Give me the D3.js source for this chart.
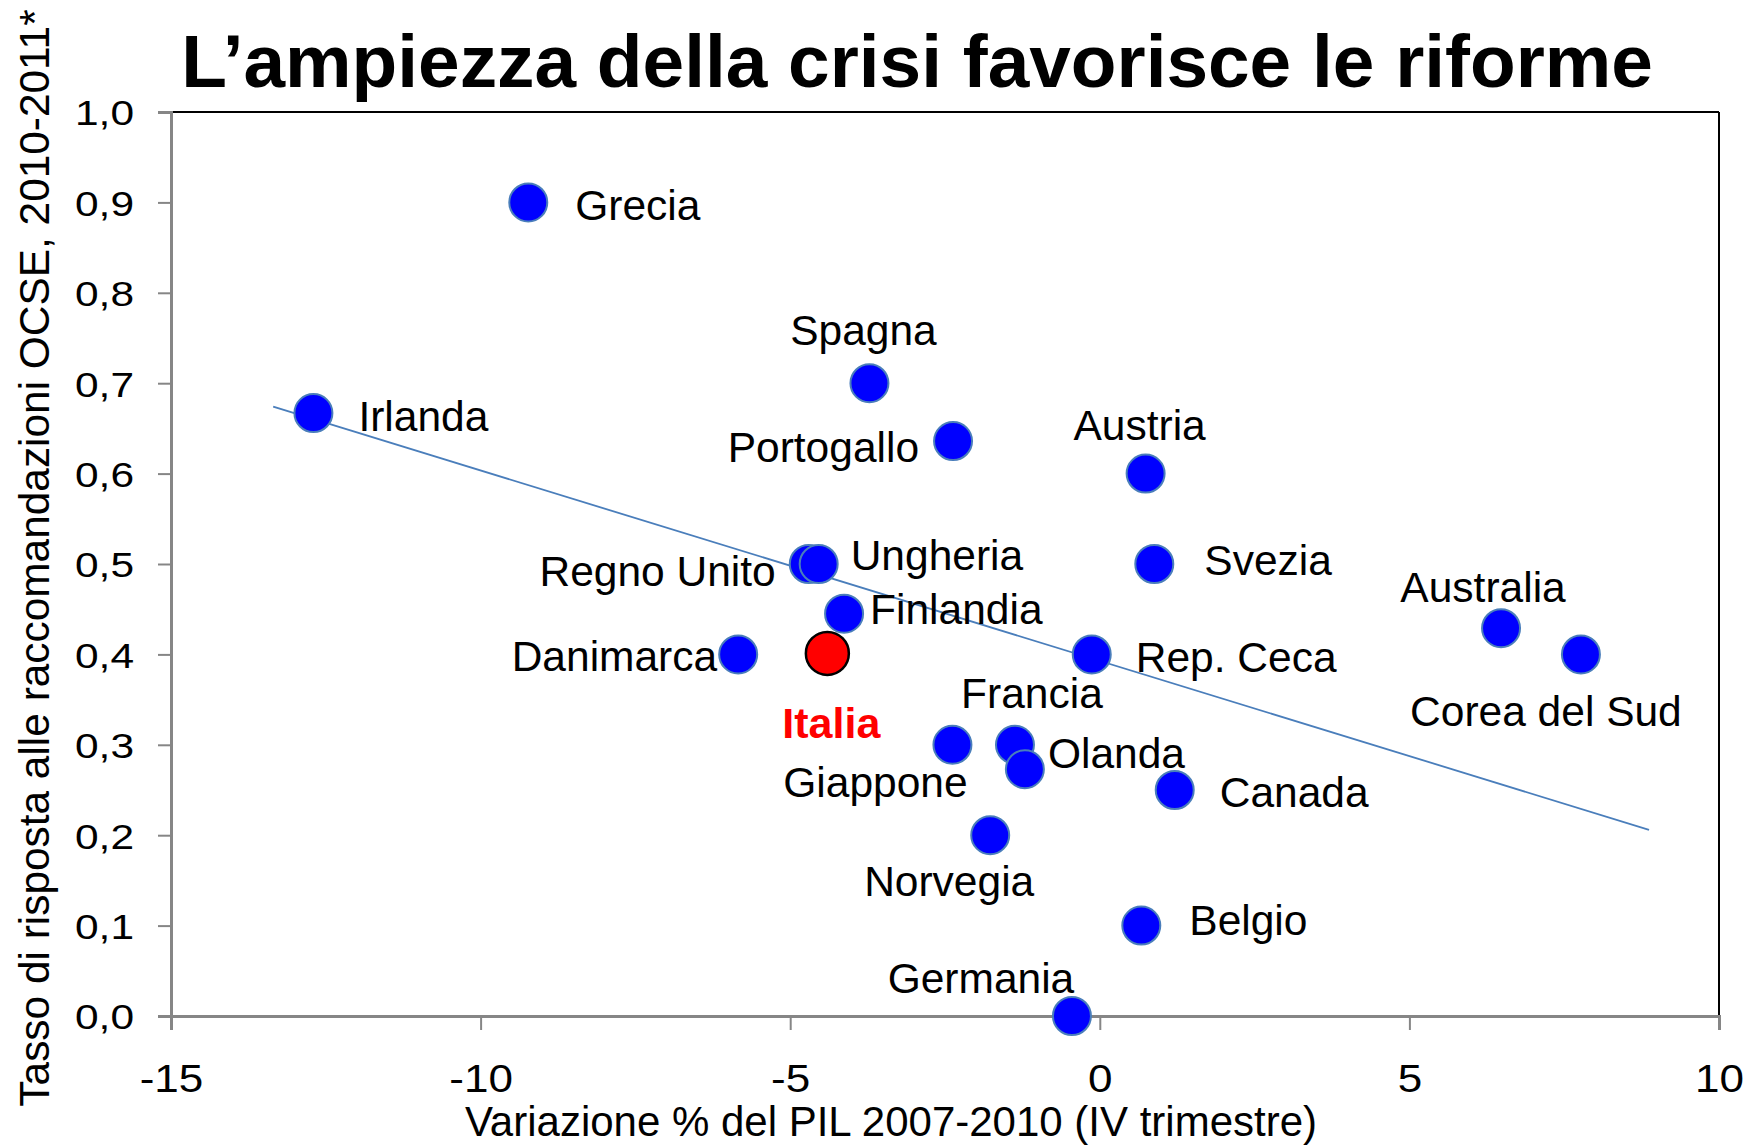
<!DOCTYPE html>
<html>
<head>
<meta charset="utf-8">
<script src="https://cdn.jsdelivr.net/npm/d3@7"></script>
<style>
  html, body { margin: 0; padding: 0; background: #ffffff; }
  svg { display: block; font-family: "Liberation Sans", Arial, Helvetica, sans-serif; }
</style>
</head>
<body>
<svg id="chart" width="1746" height="1146"></svg>
<script>
// ---------------- DATA ----------------
const countries = ["Grecia","Irlanda","Spagna","Portogallo","Austria","Regno Unito","Ungheria","Svezia","Finlandia","Danimarca","Italia","Rep. Ceca","Francia","Giappone","Olanda","Canada","Norvegia","Belgio","Germania","Australia","Corea del Sud"];
const gdpChange = [-9.23,-12.70,-3.72,-2.37,0.74,-4.70,-4.54,0.88,-4.13,-5.84,-4.40,-0.13,-1.37,-2.38,-1.21,1.21,-1.77,0.67,-0.45,6.48,7.77];
const responseRate = [0.900,0.667,0.700,0.636,0.600,0.500,0.500,0.500,0.445,0.400,0.400,0.400,0.300,0.300,0.273,0.250,0.200,0.100,0.000,0.429,0.400];
const highlighted = ["Italia"];
const trendX = [-13.35, 8.87];
const trendY = [0.674, 0.206];
const xTicks = [-15,-10,-5,0,5,10];
const xTickLabels = ["-15","-10","-5","0","5","10"];
const yTicks = [0,0.1,0.2,0.3,0.4,0.5,0.6,0.7,0.8,0.9,1.0];
const yTickLabels = ["0,0","0,1","0,2","0,3","0,4","0,5","0,6","0,7","0,8","0,9","1,0"];
const titleText = "L\u2019ampiezza della crisi favorisce le riforme";
const xTitle = "Variazione % del PIL 2007-2010 (IV trimestre)";
const yTitle = "Tasso di risposta alle raccomandazioni OCSE, 2010-2011*";

// ---------------- LAYOUT (label placement, px) ----------------
const labelLayout = {
  "Grecia":        {a:"start",  dx: 47,  dy: 18},
  "Irlanda":       {a:"start",  dx: 45,  dy: 18},
  "Spagna":        {a:"middle", dx: -6,  dy: -38},
  "Portogallo":    {a:"end",    dx: -34, dy: 21},
  "Austria":       {a:"middle", dx: -6,  dy: -34},
  "Regno Unito":   {a:"end",    dx: -33, dy: 22},
  "Ungheria":      {a:"start",  dx: 32,  dy: 6},
  "Svezia":        {a:"start",  dx: 50,  dy: 11},
  "Finlandia":     {a:"start",  dx: 26,  dy: 10},
  "Danimarca":     {a:"end",    dx: -21, dy: 17},
  "Italia":        {a:"middle", dx: 4,   dy: 84},
  "Rep. Ceca":     {a:"start",  dx: 44,  dy: 18},
  "Francia":       {a:"middle", dx: 17,  dy: -37},
  "Giappone":      {a:"middle", dx: -77, dy: 52},
  "Olanda":        {a:"start",  dx: 23,  dy: -1},
  "Canada":        {a:"start",  dx: 45,  dy: 17},
  "Norvegia":      {a:"middle", dx: -41, dy: 61},
  "Belgio":        {a:"start",  dx: 48,  dy: 9},
  "Germania":      {a:"middle", dx: -91, dy: -23},
  "Australia":     {a:"middle", dx: -18, dy: -26},
  "Corea del Sud": {a:"middle", dx: -35, dy: 72}
};

// ---------------- CHART ----------------
const svg = d3.select("#chart");
const x = d3.scaleLinear().domain([-15, 10]).range([171, 1719]);
const y = d3.scaleLinear().domain([0, 1]).range([1016, 112]);

// frame: top and right black
svg.append("line").attr("x1", x(-15)).attr("x2", x(10)).attr("y1", y(1)).attr("y2", y(1))
  .attr("stroke", "#000").attr("stroke-width", 2);
svg.append("line").attr("x1", x(10)).attr("x2", x(10)).attr("y1", y(1)).attr("y2", y(0))
  .attr("stroke", "#000").attr("stroke-width", 2);

// y axis
const gy = svg.append("g").attr("transform", `translate(${x(-15)},0)`)
  .call(d3.axisLeft(y).tickValues(yTicks).tickFormat((d, i) => yTickLabels[i]).tickSizeOuter(0).tickSize(13));
gy.select(".domain").attr("stroke", "#868686").attr("stroke-width", 3);
gy.selectAll(".tick line").attr("stroke", "#868686").attr("stroke-width", 2);
gy.selectAll(".tick text")
  .attr("x", null).attr("dy", "0.36em")
  .attr("text-anchor", "end")
  .attr("transform", "translate(-37,0) scale(1.18,1)")
  .attr("fill", "#000").attr("font-size", 36)
  .attr("font-family", "Liberation Sans, Arial, sans-serif");

// x axis
const gx = svg.append("g").attr("transform", `translate(0,${y(0)})`)
  .call(d3.axisBottom(x).tickValues(xTicks).tickFormat((d, i) => xTickLabels[i]).tickSizeOuter(0).tickSize(14));
gx.select(".domain").attr("stroke", "#868686").attr("stroke-width", 3);
gx.selectAll(".tick line").attr("stroke", "#868686").attr("stroke-width", 2);
gx.selectAll(".tick text")
  .attr("y", null).attr("dy", null)
  .attr("text-anchor", "middle")
  .attr("transform", "translate(0,76) scale(1.13,1)")
  .attr("fill", "#000").attr("font-size", 39)
  .attr("font-family", "Liberation Sans, Arial, sans-serif");

// trend line
svg.append("line")
  .attr("x1", x(trendX[0])).attr("y1", y(trendY[0]))
  .attr("x2", x(trendX[1])).attr("y2", y(trendY[1]))
  .attr("stroke", "#4a7ebb").attr("stroke-width", 1.8);

// points
const data = countries.map((c, i) => ({name: c, gx: gdpChange[i], ry: responseRate[i]}));
svg.append("g").selectAll("circle").data(data).join("circle")
  .attr("cx", d => x(d.gx)).attr("cy", d => y(d.ry)).attr("r", 19)
  .attr("fill", "#0000ff").attr("stroke", "#4a7ebb").attr("stroke-width", 2);

// highlighted (Italia)
svg.append("g").selectAll("circle").data(data.filter(d => highlighted.includes(d.name))).join("circle")
  .attr("cx", d => x(d.gx)).attr("cy", d => y(d.ry) - 1).attr("r", 21.5)
  .attr("fill", "#ff0000").attr("stroke", "#000").attr("stroke-width", 2.5);

// labels
svg.append("g").selectAll("text").data(data).join("text")
  .attr("x", d => x(d.gx) + labelLayout[d.name].dx)
  .attr("y", d => y(d.ry) + labelLayout[d.name].dy)
  .attr("text-anchor", d => labelLayout[d.name].a)
  .attr("font-size", d => highlighted.includes(d.name) ? 43 : 42.5)
  .attr("font-weight", d => highlighted.includes(d.name) ? "bold" : "normal")
  .attr("fill", d => highlighted.includes(d.name) ? "#ff0000" : "#000")
  .text(d => d.name);

// title
svg.append("text").attr("x", 917).attr("y", 87).attr("text-anchor", "middle")
  .attr("font-size", 74.8).attr("font-weight", "bold").attr("fill", "#000").text(titleText);

// axis titles
svg.append("text").attr("x", 891).attr("y", 1136).attr("text-anchor", "middle")
  .attr("font-size", 42).attr("fill", "#000").text(xTitle);
svg.append("text").attr("transform", "translate(49,558) rotate(-90)").attr("text-anchor", "middle")
  .attr("font-size", 42.4).attr("fill", "#000").text(yTitle);
</script>
</body>
</html>
